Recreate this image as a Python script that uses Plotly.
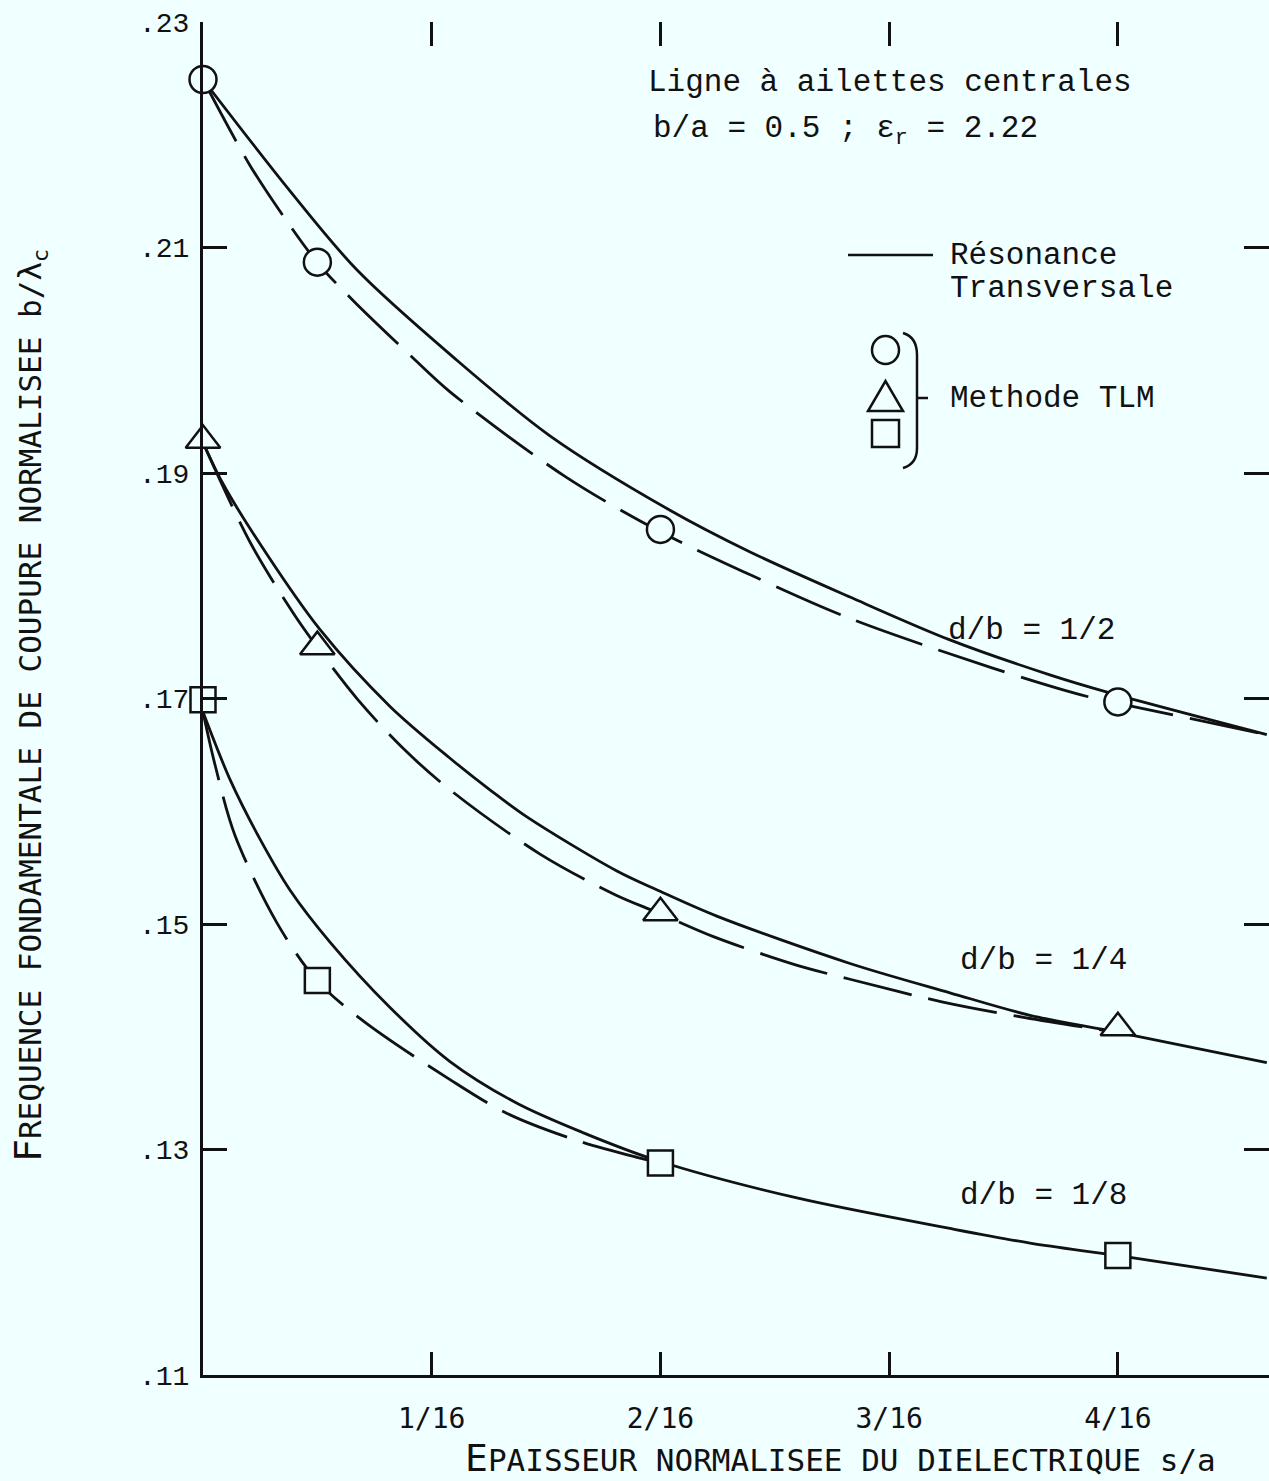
import plotly.graph_objects as go

# ---------------- data ----------------
# x = s/a (normalised dielectric thickness), y = b/lambda_c
tick_x_vals = [1/16, 2/16, 3/16, 4/16]
tick_x_text = ["1/16", "2/16", "3/16", "4/16"]
tick_y_vals = [0.11, 0.13, 0.15, 0.17, 0.19, 0.21, 0.23]
tick_y_text = [".11", ".13", ".15", ".17", ".19", ".21", ".23"]

# Résonance transversale (solid curves)
rt_half_x = [0, 0.0238, 0.0421, 0.0683, 0.0948, 0.1276, 0.1495, 0.1768, 0.2041, 0.2314, 0.2478, 0.2907]
rt_half_y = [0.2249, 0.2150, 0.2080, 0.2003, 0.1933, 0.1867, 0.1830, 0.1790, 0.1752, 0.1721, 0.1705, 0.1668]
rt_quarter_x = [0, 0.0052, 0.0148, 0.0320, 0.0511, 0.0675, 0.0784, 0.0885, 0.1131, 0.1249, 0.1404, 0.1768, 0.2041, 0.2260, 0.2497, 0.2907]
rt_quarter_y = [0.1927, 0.1892, 0.1841, 0.1761, 0.1693, 0.1647, 0.1619, 0.1595, 0.1547, 0.1529, 0.1507, 0.1465, 0.1439, 0.1419, 0.1404, 0.1377]
rt_eighth_x = [0, 0.0074, 0.0148, 0.0238, 0.0347, 0.0511, 0.0675, 0.0858, 0.1038, 0.1243, 0.1623, 0.2041, 0.2260, 0.2497, 0.2907]
rt_eighth_y = [0.1688, 0.1628, 0.1580, 0.1530, 0.1484, 0.1426, 0.1378, 0.1341, 0.1315, 0.1290, 0.1257, 0.1230, 0.1217, 0.1206, 0.1186]

# dashed curves
dash_half_x = [0, 0.0128, 0.0232, 0.0314, 0.0410, 0.0574, 0.0675, 0.0989, 0.1243, 0.1500, 0.1768, 0.2158, 0.2402, 0.2497, 0.2907]
dash_half_y = [0.2249, 0.2173, 0.2122, 0.2086, 0.2053, 0.2002, 0.1972, 0.1897, 0.1849, 0.1809, 0.1771, 0.1727, 0.1703, 0.1696, 0.1668]
dash_quarter_x = [0, 0.0128, 0.0246, 0.0311, 0.0423, 0.0546, 0.0675, 0.0921, 0.1126, 0.1243, 0.1393, 0.1617, 0.1768, 0.2019, 0.2246, 0.2497]
dash_quarter_y = [0.1927, 0.1839, 0.1776, 0.1746, 0.1699, 0.1656, 0.1619, 0.1562, 0.1526, 0.1510, 0.1489, 0.1464, 0.1451, 0.1431, 0.1417, 0.1404]
dash_eighth_x = [0, 0.0033, 0.0087, 0.0202, 0.0311, 0.0434, 0.0675, 0.0831, 0.1022, 0.1186, 0.1250]
dash_eighth_y = [0.1688, 0.1641, 0.1579, 0.1501, 0.1450, 0.1415, 0.1362, 0.1332, 0.1308, 0.1293, 0.1288]

# Méthode TLM (markers)
tlm_x = [0, 1/32, 2/16, 4/16]
tlm_half_y = [0.2249, 0.2087, 0.1850, 0.1697]
tlm_quarter_y = [0.1929, 0.1746, 0.1510, 0.1408]
tlm_eighth_y = [0.1699, 0.1450, 0.1288, 0.1206]

# ---------------- styling ----------------
BG = "#F0FFFF"
INK = "#111111"
MONO = "Liberation Mono, Courier New, monospace"
SANSM = "DejaVu Sans Mono, monospace"
LW = 2.8
DASH = "70px,17px"

fig = go.Figure()

for xs, ys in [(rt_half_x, rt_half_y), (rt_quarter_x, rt_quarter_y), (rt_eighth_x, rt_eighth_y)]:
    fig.add_trace(go.Scatter(x=xs, y=ys, mode="lines", line=dict(color=INK, width=LW, shape="spline", smoothing=0.9),
                             showlegend=False, hoverinfo="skip"))
for xs, ys in [(dash_half_x, dash_half_y), (dash_quarter_x, dash_quarter_y), (dash_eighth_x, dash_eighth_y)]:
    fig.add_trace(go.Scatter(x=xs, y=ys, mode="lines", line=dict(color=INK, width=LW, shape="spline", smoothing=0.9, dash=DASH),
                             showlegend=False, hoverinfo="skip"))

for ys, sym, sz in [(tlm_half_y, "circle", 27), (tlm_quarter_y, "triangle-up", 30), (tlm_eighth_y, "square", 25)]:
    fig.add_trace(go.Scatter(x=tlm_x, y=ys, mode="markers", cliponaxis=False,
                             marker=dict(symbol=sym, size=sz, color=BG, line=dict(color=INK, width=2.5)),
                             showlegend=False, hoverinfo="skip"))

# invisible trace so the mirrored tick axes render
fig.add_trace(go.Scatter(x=[tlm_x[0]], y=[tlm_half_y[0]], xaxis="x2", yaxis="y2", mode="markers",
                         marker=dict(opacity=0), showlegend=False, hoverinfo="skip"))

X_RANGE = [0, 0.2913]
Y_RANGE = [0.11, 0.23]

fig.update_layout(
    width=1269, height=1481,
    margin=dict(l=203, r=0, t=22, b=106, pad=0),
    paper_bgcolor=BG, plot_bgcolor=BG,
    showlegend=False,
    xaxis=dict(range=X_RANGE, showline=True, linecolor=INK, linewidth=3, ticks="inside", ticklen=23,
               tickwidth=2.5, tickcolor=INK, tickvals=tick_x_vals, ticktext=tick_x_text,
               tickfont=dict(family=SANSM, size=28, color=INK), showgrid=False, zeroline=False,
               ticklabelstandoff=16),
    yaxis=dict(range=Y_RANGE, showline=True, linecolor=INK, linewidth=3, ticks="inside", ticklen=24,
               tickwidth=2.5, tickcolor=INK, tickvals=tick_y_vals, ticktext=tick_y_text,
               tickfont=dict(family=MONO, size=28, color=INK), showgrid=False, zeroline=False,
               ticklabelstandoff=5),
    xaxis2=dict(range=X_RANGE, overlaying="x", side="top", showline=False, ticks="inside", ticklen=24,
                tickwidth=2.5, tickcolor=INK, tickvals=tick_x_vals, showticklabels=False,
                showgrid=False, zeroline=False),
    yaxis2=dict(range=Y_RANGE, overlaying="y", side="right", showline=False, ticks="inside", ticklen=25,
                tickwidth=2.5, tickcolor=INK, tickvals=tick_y_vals[1:-1], showticklabels=False,
                showgrid=False, zeroline=False),
)

def px(xp):
    return (xp - 203) / 1066

def py(yp):
    return (1375 - yp) / 1353

shape_line = dict(color=INK, width=2.5)
shapes = [
    dict(type="line", xref="paper", yref="paper", x0=px(848), x1=px(933), y0=py(255), y1=py(255), line=shape_line),
    dict(type="circle", xref="paper", yref="paper", x0=px(872), x1=px(899), y0=py(364), y1=py(336), line=shape_line),
    dict(type="path", xref="paper", yref="paper",
         path=f"M {px(868)},{py(411)} L {px(903)},{py(411)} L {px(885.5)},{py(381)} Z", line=shape_line),
    dict(type="rect", xref="paper", yref="paper", x0=px(872), x1=px(899), y0=py(447), y1=py(420), line=shape_line),
    dict(type="path", xref="paper", yref="paper",
         path=(f"M {px(903)},{py(333)} Q {px(917)},{py(337)} {px(917)},{py(355)} "
               f"L {px(917)},{py(448)} Q {px(917)},{py(464)} {px(903)},{py(468)}"), line=shape_line),
    dict(type="line", xref="paper", yref="paper", x0=px(917), x1=px(928), y0=py(398), y1=py(398), line=shape_line),
]
fig.update_layout(shapes=shapes)

TF = dict(family=MONO, size=31, color=INK)
def note(text, xp, yp, **kw):
    fig.add_annotation(text=text, xref="paper", yref="paper", x=px(xp), y=py(yp), xanchor="left",
                       yanchor="middle", showarrow=False, font=TF, **kw)

note("Ligne à ailettes centrales", 646, 83)
note("b/a = 0.5 ; ε<sub>r</sub> = 2.22", 651, 131)
note("Résonance", 948, 255)
note("Transversale", 948, 288)
note("Methode TLM", 948, 398)
note("d/b = 1/2", 946, 630)
note("d/b = 1/4", 958, 960)
note("d/b = 1/8", 958, 1195)

# axis titles (small caps imitation)
fig.add_annotation(text="<span style='font-size:38px'>E</span>PAISSEUR NORMALISEE DU DIELECTRIQUE s/a",
                   xref="paper", yref="paper", x=px(840), y=py(1458), xanchor="center", yanchor="middle",
                   showarrow=False, font=dict(family=SANSM, size=31, color=INK))
fig.add_annotation(text="<span style='font-size:38px'>F</span>REQUENCE FONDAMENTALE DE COUPURE NORMALISEE b/λ<sub>c</sub>",
                   xref="paper", yref="paper", x=px(29), y=py(706), xanchor="center", yanchor="middle",
                   textangle=-90, showarrow=False, font=dict(family=SANSM, size=31, color=INK))

fig.write_html("out.html", config={"displayModeBar": False},
               post_script="document.body.style.margin='0';document.body.style.background='#F0FFFF';")
